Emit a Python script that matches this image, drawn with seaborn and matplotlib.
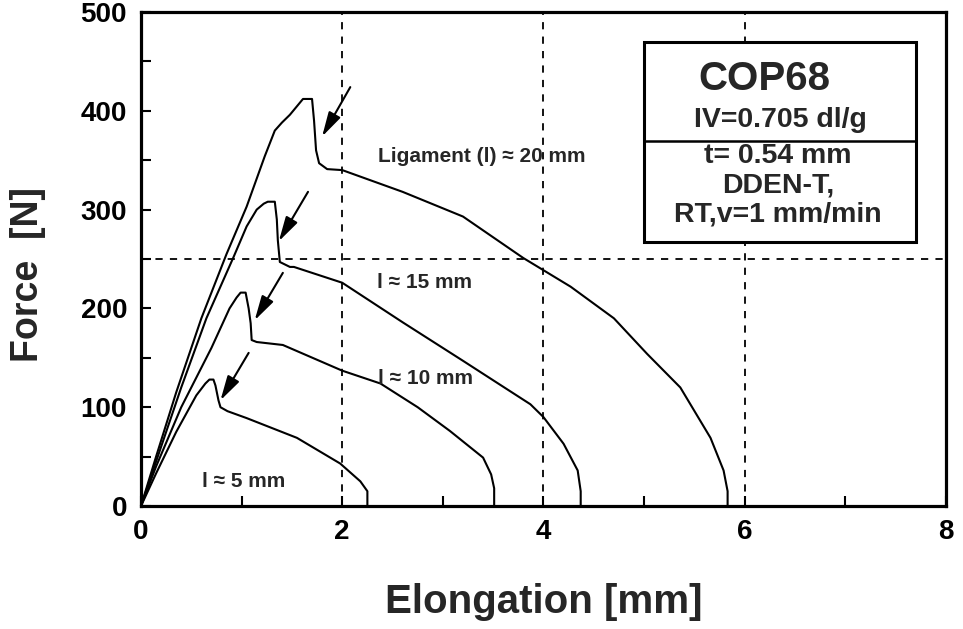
import matplotlib
matplotlib.use("Agg")
import matplotlib.pyplot as plt
from matplotlib.patches import Rectangle
from matplotlib.ticker import MultipleLocator
import numpy as np
import pandas as pd
import seaborn as sns

# ---------------- data ----------------
x20 = [0, 0.15, 0.35, 0.6, 0.85, 1.05, 1.23, 1.33, 1.40, 1.48, 1.61, 1.70, 1.72, 1.74, 1.77, 1.85,
       2.0, 2.6, 3.2, 3.8, 4.27, 4.7, 5.03, 5.36, 5.66, 5.79, 5.83, 5.83]
y20 = [0, 50, 115, 190, 255, 303, 354, 380, 388, 396, 412, 412, 390, 360, 347, 341,
       340, 318, 293, 251, 222, 190, 154, 120, 69, 36, 15, 0]

x15 = [0, 0.15, 0.4, 0.65, 0.92, 1.05, 1.15, 1.22, 1.26, 1.33, 1.35, 1.36, 1.38, 1.48, 1.52,
       2.0, 2.6, 3.2, 3.55, 3.87, 4.0, 4.2, 4.34, 4.37, 4.37]
y15 = [0, 45, 120, 190, 252, 283, 300, 306, 308, 308, 290, 269, 247, 242, 242,
       226, 186, 147, 124, 103, 90, 63, 36, 15, 0]

x10 = [0, 0.15, 0.4, 0.7, 0.88, 0.95, 0.99, 1.04, 1.07, 1.09, 1.10, 1.15, 1.41,
       2.0, 2.38, 2.75, 3.07, 3.40, 3.48, 3.51, 3.51]
y10 = [0, 40, 100, 160, 200, 211, 216, 216, 200, 185, 168, 166, 163,
       137, 124, 100, 76, 49, 32, 18, 0]

x5 = [0, 0.15, 0.35, 0.55, 0.64, 0.68, 0.72, 0.74, 0.77, 0.79, 0.86, 1.05, 1.55, 1.98, 2.18, 2.25, 2.25]
y5 = [0, 33, 75, 112, 124, 128, 128, 122, 107, 100, 96, 89, 69, 43, 25, 15, 0]

curve_names = ["20 mm", "15 mm", "10 mm", "5 mm"]

# arrows: (tail x, tail y, head x, head y)
arrow_tails_x = [2.08, 1.66, 1.41, 1.07]
arrow_tails_y = [424, 318, 236, 155]
arrow_heads_x = [1.80, 1.37, 1.13, 0.79]
arrow_heads_y = [374, 268, 188, 107]

curve_labels = ["Ligament (l) \u2248 20 mm", "l \u2248 15 mm", "l \u2248 10 mm", "l \u2248 5 mm"]
label_x = [2.36, 2.35, 2.36, 0.61]
label_y = [354, 226, 129, 25]

grid_x = [2, 4, 6]
grid_y = [250]

box_title = "COP68"
box_line1 = "IV=0.705 dl/g"
box_lines2 = ["t= 0.54 mm", "DDEN-T,", "RT,v=1 mm/min"]

# ---------------- figure ----------------
sns.set_theme(style="ticks")
plt.rcParams["font.family"] = ["Liberation Sans", "DejaVu Sans"]
plt.rcParams["font.weight"] = "bold"

fig = plt.figure(figsize=(9.63, 6.29), dpi=100)
ax = fig.add_axes([0.1464, 0.1955, 0.8359, 0.7854])

frames = []
for name, xs, ys in zip(curve_names, [x20, x15, x10, x5], [y20, y15, y10, y5]):
    frames.append(pd.DataFrame({"Elongation": xs, "Force": ys, "curve": name,
                                "order": np.arange(len(xs))}))
df = pd.concat(frames, ignore_index=True)

sns.lineplot(data=df, x="Elongation", y="Force", units="curve", estimator=None,
             sort=False, color="black", lw=1.5, ax=ax, zorder=2)

for gx in grid_x:
    ax.axvline(gx, color="black", lw=1.3, ls=(0, (4, 4)), zorder=1)
for gy in grid_y:
    ax.axhline(gy, color="black", lw=1.3, ls=(0, (4, 4)), zorder=1)

for tx, ty, hx, hy in zip(arrow_tails_x, arrow_tails_y, arrow_heads_x, arrow_heads_y):
    ax.annotate("", xy=(hx, hy), xytext=(tx, ty),
                arrowprops=dict(arrowstyle="-|>,head_length=0.75,head_width=0.2",
                                mutation_scale=20, color="black", lw=1.5,
                                shrinkA=0, shrinkB=0))

for txt, lx, ly in zip(curve_labels, label_x, label_y):
    ax.text(lx, ly, txt, ha="left", va="center", fontsize=15, fontweight="bold")

# info box
bx0, bx1, by0, by1, bdiv = 5.0, 7.70, 267, 469.5, 369
ax.add_patch(Rectangle((bx0, by0), bx1 - bx0, by1 - by0, fc="white", ec="black",
                       lw=2.2, zorder=3))
ax.plot([bx0, bx1], [bdiv, bdiv], color="black", lw=1.8, zorder=4)
ax.text(6.2, 432, box_title, ha="center", va="center", fontsize=29, fontweight="bold", zorder=5)
ax.text(6.36, 391, box_line1, ha="center", va="center", fontsize=20.5, zorder=5)
for txt, ty in zip(box_lines2, [354, 324, 295]):
    ax.text(6.33, ty, txt, ha="center", va="center", fontsize=20.5, zorder=5)

ax.set_xlim(0, 8)
ax.set_ylim(0, 500)
ax.xaxis.set_major_locator(MultipleLocator(2))
ax.xaxis.set_minor_locator(MultipleLocator(1))
ax.yaxis.set_major_locator(MultipleLocator(100))
ax.yaxis.set_minor_locator(MultipleLocator(50))
ax.tick_params(which="both", direction="in", length=7, width=1.5, top=False, right=False,
               colors="black")
ax.tick_params(axis="x", which="major", pad=9, labelsize=20)
ax.tick_params(axis="y", which="major", pad=10, labelsize=20)
for lab in ax.get_xticklabels() + ax.get_yticklabels():
    lab.set_fontweight("bold")

for sp in ax.spines.values():
    sp.set_linewidth(2.3)
    sp.set_color("black")
    sp.set_visible(True)

ax.set_xlabel("Elongation [mm]", fontsize=29, fontweight="bold")
ax.set_ylabel("Force  [N]", fontsize=27, fontweight="bold")
ax.xaxis.set_label_coords(0.5, -0.155)
ax.yaxis.set_label_coords(-0.118, 0.468)
ax.set_facecolor("white")
fig.patch.set_facecolor("white")

fig.savefig("out.png", dpi=100)
